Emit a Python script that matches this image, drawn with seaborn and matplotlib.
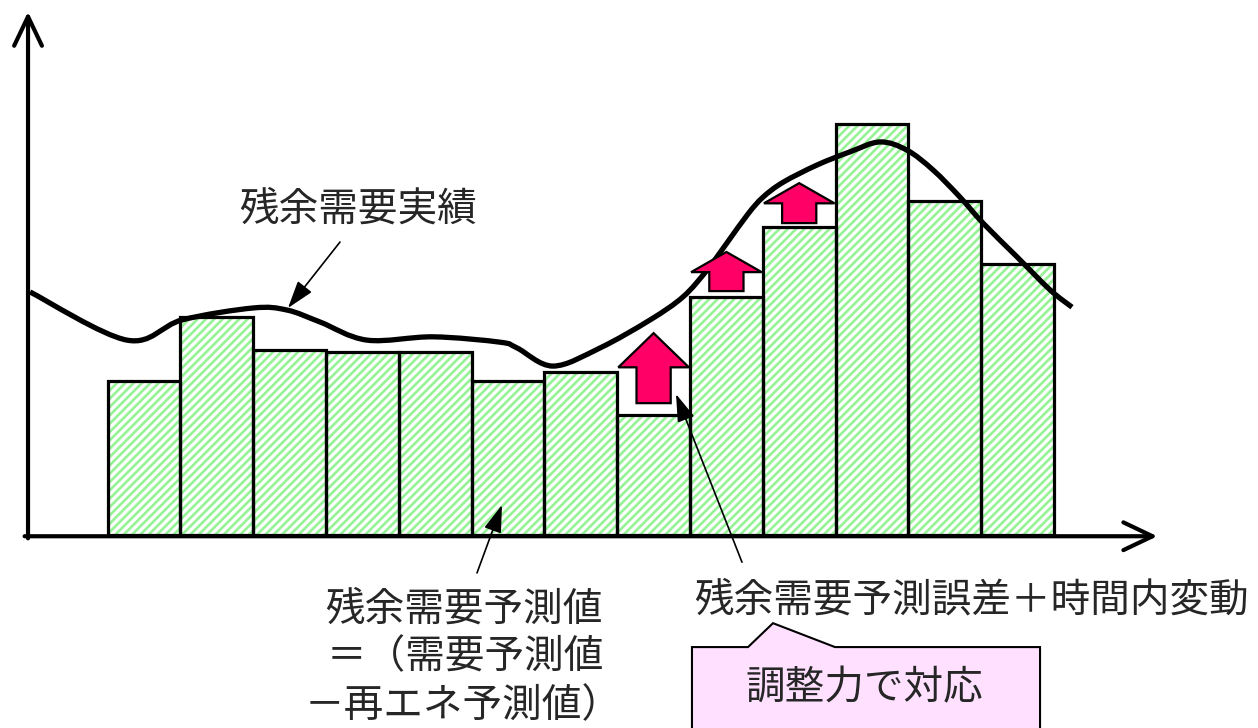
import matplotlib
matplotlib.use("Agg")
import matplotlib.pyplot as plt
import matplotlib.patches as mpatches
from matplotlib.path import Path
import numpy as np
import pandas as pd
import seaborn as sns

# Residual demand forecast per time block (bars)
slots = list(range(13))
forecast = [37.4, 52.9, 44.9, 44.4, 44.4, 37.4, 39.6, 29.1, 57.8, 74.8, 99.8, 81.1, 65.8]

# Actual residual demand (curve knots)
actual_x = [-1.566, -0.234, 0.522, 1.497, 1.964, 2.418, 3.063, 3.970, 4.890, 5.124,
            5.618, 6.264, 6.951, 7.404, 7.734, 8.008, 8.300, 8.503, 8.777, 9.245,
            9.698, 10.110, 10.481, 10.838, 11.209, 11.525, 11.992, 12.445, 12.747]
actual_y = [59.0, 47.3, 52.2, 55.1, 54.6, 51.7, 47.3, 48.1, 46.8, 45.4,
            41.0, 45.4, 52.2, 57.8, 64.3, 70.9, 78.0, 82.0, 85.6, 89.8,
            93.0, 95.4, 93.4, 88.6, 82.0, 75.7, 67.5, 59.5, 55.3]

# Forecast error + intra-period fluctuation (block arrows)
err_slot = [7, 8, 9]
err_from = [32.0, 59.2, 75.7]
err_to = [49.0, 68.7, 85.4]
err_head = [8.3, 4.9, 4.9]

sns.set_style("white")
plt.rcParams["font.family"] = ["Noto Sans CJK JP", "DejaVu Sans"]
plt.rcParams["hatch.linewidth"] = 1.9

fig = plt.figure(figsize=(12.58, 7.28), dpi=100)
ax = fig.add_axes([0, 0, 1, 1])

df = pd.DataFrame({"slot": slots, "forecast": forecast})

# hatched fill layer
sns.barplot(data=df, x="slot", y="forecast", width=1.0, errorbar=None,
            color="white", ax=ax)
n_fill = len(ax.patches)
for p in ax.patches[:n_fill]:
    p.set_facecolor("white")
    p.set_edgecolor("#96F296")
    p.set_hatch("////")
    p.set_linewidth(0)

# outline layer
sns.barplot(data=df, x="slot", y="forecast", width=1.0, errorbar=None,
            fill=False, ax=ax)
for p in ax.patches[n_fill:]:
    p.set_edgecolor("black")
    p.set_linewidth(2.3)
    p.set_facecolor("none")
    p.set_zorder(3)

# actual demand curve: smooth cubic path through the knots
pts = np.column_stack([actual_x, actual_y])
ext = np.vstack([pts[0], pts, pts[-1]])
verts = [tuple(pts[0])]
codes = [Path.MOVETO]
for i in range(1, len(ext) - 2):
    p0, p1, p2, p3 = ext[i - 1], ext[i], ext[i + 1], ext[i + 2]
    c1 = p1 + (p2 - p0) / 6.0
    c2 = p2 - (p3 - p1) / 6.0
    verts += [tuple(c1), tuple(c2), tuple(p2)]
    codes += [Path.CURVE4] * 3
curve = mpatches.PathPatch(Path(verts, codes), facecolor="none",
                           edgecolor="black", linewidth=3.8, zorder=5,
                           capstyle="butt", joinstyle="round")
ax.add_patch(curve)

# block arrows
for s, a, b, h in zip(err_slot, err_from, err_to, err_head):
    arr = mpatches.FancyArrow(s, a, 0, b - a, width=0.47, head_width=0.97,
                              head_length=h, length_includes_head=True,
                              facecolor="#FF0066", edgecolor="black",
                              linewidth=1.6, zorder=6)
    ax.add_patch(arr)

ax.set_xlim(-1.978, 15.302)
ax.set_ylim(-46.84, 129.85)
ax.axis("off")

# axes with open arrowheads
axis_kw = dict(arrowstyle="->,head_length=2.1,head_width=1.0", lw=3.0,
               color="black", shrinkA=0, shrinkB=0)
ax.annotate("", xy=(-1.593, 127.0), xytext=(-1.593, -0.8),
            arrowprops=axis_kw, zorder=7)
ax.annotate("", xy=(13.92, -0.3), xytext=(-1.64, -0.3),
            arrowprops=axis_kw, zorder=7)

# pointer annotations
ptr_kw = dict(arrowstyle="-|>,head_length=1.7,head_width=0.55", lw=1.2,
              color="black", shrinkA=0, shrinkB=0)
ax.annotate("", xy=(1.978, 55.1), xytext=(2.692, 71.1), arrowprops=ptr_kw, zorder=8)
ax.annotate("", xy=(4.918, 7.3), xytext=(4.574, -9.2), arrowprops=ptr_kw, zorder=8)
ax.annotate("", xy=(7.308, 34.2), xytext=(8.214, -6.6), arrowprops=ptr_kw, zorder=8)

fs = 28.5
ax.text(2.94, 79.1, "残余需要実績", fontsize=fs, ha="center", va="center")
ax.text(4.40, -18.0, "残余需要予測値", fontsize=fs, ha="center", va="center")
ax.text(4.41, -29.6, "＝（需要予測値", fontsize=fs, ha="center", va="center")
ax.text(4.38, -41.5, "－再エネ予測値）", fontsize=fs, ha="center", va="center")
ax.text(11.37, -16.0, "残余需要予測誤差＋時間内変動", fontsize=fs,
        ha="center", va="center")

# callout box
callout = mpatches.Polygon(
    [(7.527, -50.0), (7.527, -27.2), (8.297, -27.2), (8.640, -21.4),
     (9.492, -27.2), (12.308, -27.2), (12.308, -50.0)],
    closed=True, facecolor="#FFE1FF", edgecolor="black", linewidth=1.5,
    zorder=6, clip_on=True)
ax.add_patch(callout)
ax.text(9.90, -37.2, "調整力で対応", fontsize=fs, ha="center", va="center",
        zorder=7)

fig.savefig("out.png", dpi=100)
